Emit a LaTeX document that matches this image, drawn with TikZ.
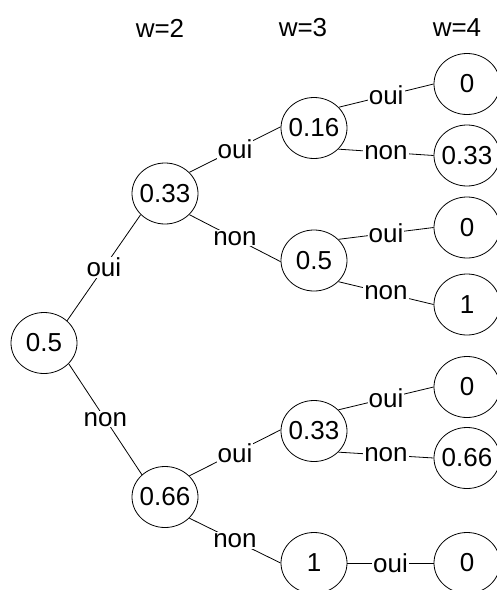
\documentclass[tikz,border=0pt]{standalone}
\usepackage{fontspec}
\setmainfont{Liberation Sans}
\usetikzlibrary{shapes.geometric}
\begin{document}
\begin{tikzpicture}[x=1pt,y=-1pt,
  every node/.style={font=\fontsize{26pt}{30pt}\selectfont},
  st/.style={ellipse,draw,line width=0.8pt,minimum width=66pt,minimum height=61pt,inner sep=0pt},
  lbl/.style={fill=white,inner sep=1pt,pos=0.5},
  edge/.style={line width=0.8pt},
  hdr/.style={inner sep=0pt}]
\useasboundingbox (0,0) rectangle (497,590);
\clip (0,0) rectangle (497,590);
% headers
\node[hdr] (h2) at (160,28) {w=2};
\node[hdr] (h3) at (303,28) {w=3};
\node[hdr] (h4) at (457,28) {w=4};
% nodes
\node[st] (r) at (44,343) {\makebox[0pt]{0.5}};
\node[st] (a1) at (165,193.5) {\makebox[0pt]{0.33}};
\node[st] (a2) at (165,497) {\makebox[0pt]{0.66}};
\node[st] (b1) at (314,128) {\makebox[0pt]{0.16}};
\node[st] (b2) at (314,260.5) {\makebox[0pt]{0.5}};
\node[st] (b3) at (314,431) {\makebox[0pt]{0.33}};
\node[st] (b4) at (314,563) {\makebox[0pt]{1}};
\node[st] (c1) at (467,84) {\makebox[0pt]{0}};
\node[st] (c2) at (467,155.5) {\makebox[0pt]{0.33}};
\node[st] (c3) at (467,227.5) {\makebox[0pt]{0}};
\node[st] (c4) at (467,304.5) {\makebox[0pt]{1}};
\node[st] (c5) at (467,387) {\makebox[0pt]{0}};
\node[st] (c6) at (467,458) {\makebox[0pt]{0.66}};
\node[st] (c7) at (467,563) {\makebox[0pt]{0}};
% edges
\draw[edge] (r.44) -- node[lbl]{oui} (a1.221);
\draw[edge] (r.-40) -- node[lbl]{non} (a2.136);
\draw[edge] (a1.41) -- node[lbl]{oui} (b1.178);
\draw[edge] (a1.-41) -- node[lbl]{non} (b2.182);
\draw[edge] (a2.41) -- node[lbl]{oui} (b3.178);
\draw[edge] (a2.-41) -- node[lbl]{non} (b4.180);
\draw[edge] (b1.40) -- node[lbl]{oui} (c1.180);
\draw[edge] (b1.-41) -- node[lbl]{non} (c2.180);
\draw[edge] (b2.41) -- node[lbl]{oui} (c3.180);
\draw[edge] (b2.-41) -- node[lbl]{non} (c4.180);
\draw[edge] (b3.41) -- node[lbl]{oui} (c5.180);
\draw[edge] (b3.-41) -- node[lbl]{non} (c6.180);
\draw[edge] (b4.0) -- node[lbl]{oui} (c7.180);
\end{tikzpicture}
\end{document}
